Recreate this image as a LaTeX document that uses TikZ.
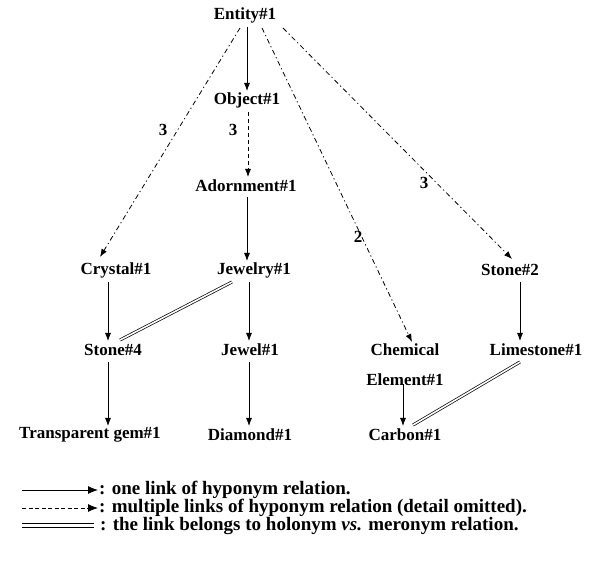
\documentclass[tikz,border=0pt]{standalone}
\usepackage{fontspec}
\setmainfont{Liberation Serif}
\usetikzlibrary{arrows.meta}
\begin{document}
\begin{tikzpicture}[x=1pt,y=-1pt,
  word/.style={font=\fontsize{17}{30}\selectfont\bfseries, inner sep=1pt},
  lab/.style={font=\fontsize{17}{20}\selectfont\bfseries, inner sep=0pt},
  leg/.style={font=\fontsize{19}{22}\selectfont\bfseries, inner sep=0pt, anchor=west},
  hypo/.style={line width=0.8pt, -{Latex[length=8pt,width=6pt]}},
  multi/.style={line width=0.8pt, dash pattern=on 5pt off 3pt on 1.2pt off 3pt, -{Latex[length=8pt,width=6pt]}},
  multid/.style={line width=0.8pt, dash pattern=on 4pt off 3pt, -{Latex[length=8pt,width=6pt]}},
  holo/.style={double, double distance=1.6pt, line width=0.7pt}]
\useasboundingbox (0,0) rectangle (611,569);
% nodes
\node[word] (entity) at (245,15) {Entity\#1};
\node[word] (object) at (247,100) {Object\#1};
\node[word] (adorn) at (246,186) {Adornment\#1};
\node[word] (crystal) at (116,270) {Crystal\#1};
\node[word] (jewelry) at (254,270) {Jewelry\#1};
\node[word] (stone2) at (510,270) {Stone\#2};
\node[word] (stone4) at (113,350) {Stone\#4};
\node[word] (jewel) at (250,350) {Jewel\#1};
\node[word, align=center] (chem) at (405,365) {Chemical\\Element\#1};
\node[word] (lime) at (536,350) {Limestone\#1};
\node[word] (gem) at (90,435) {Transparent gem\#1};
\node[word] (diamond) at (250,435) {Diamond\#1};
\node[word] (carbon) at (405,435) {Carbon\#1};
% coordinates
\coordinate (e1) at (240,28);
\coordinate (e2) at (262,28);
\coordinate (e3) at (283,28);
\coordinate (cryT) at (100,257);
\coordinate (chemT) at (412,342);
\coordinate (st2T) at (512,259);
% solid hyponym links
\draw[hypo] (247,27) -- (247,91);
\draw[hypo] (247,197) -- (247,261);
\draw[hypo] (108,282) -- (108,341);
\draw[hypo] (249,282) -- (249,341);
\draw[hypo] (520,282) -- (520,341);
\draw[hypo] (108,362) -- (108,426);
\draw[hypo] (249,362) -- (249,426);
\draw[hypo] (403,384) -- (403,426);
% multiple links
\draw[multid] (248,112) -- (248,177);
\draw[multi] (e1) -- (cryT);
\draw[multi] (e2) -- (chemT);
\draw[multi] (e3) -- (st2T);
% labels
\node[lab] (l1) at (163,130) {3};
\node[lab] (l2) at (233,130) {3};
\node[lab] (l3) at (424,183) {3};
\node[lab] (l4) at (358,237) {2};
% holonym links
\draw[holo] (232,282) -- (120,340);
\draw[holo] (520,362) -- (413,425);
% legend
\coordinate (a1) at (22,490);
\coordinate (b1) at (98,490);
\coordinate (a2) at (22,508);
\coordinate (b2) at (98,508);
\coordinate (a3) at (22,525.5);
\coordinate (b3) at (94,525.5);
\draw[line width=0.8pt, -{Latex[length=10pt,width=8pt]}] (a1) -- (b1);
\draw[line width=0.8pt, dash pattern=on 4pt off 2.5pt, -{Latex[length=10pt,width=8pt]}] (a2) -- (b2);
\draw[double, double distance=2.6pt, line width=1pt] (a3) -- (b3);
\node[leg] (t1) at (99,490) {: one link of hyponym relation.};
\node[leg] (t2) at (99,508) {: multiple links of hyponym relation (detail omitted).};
\node[leg] (t3) at (100,526) {: the link belongs to holonym \textit{vs.} meronym relation.};
\end{tikzpicture}
\end{document}
